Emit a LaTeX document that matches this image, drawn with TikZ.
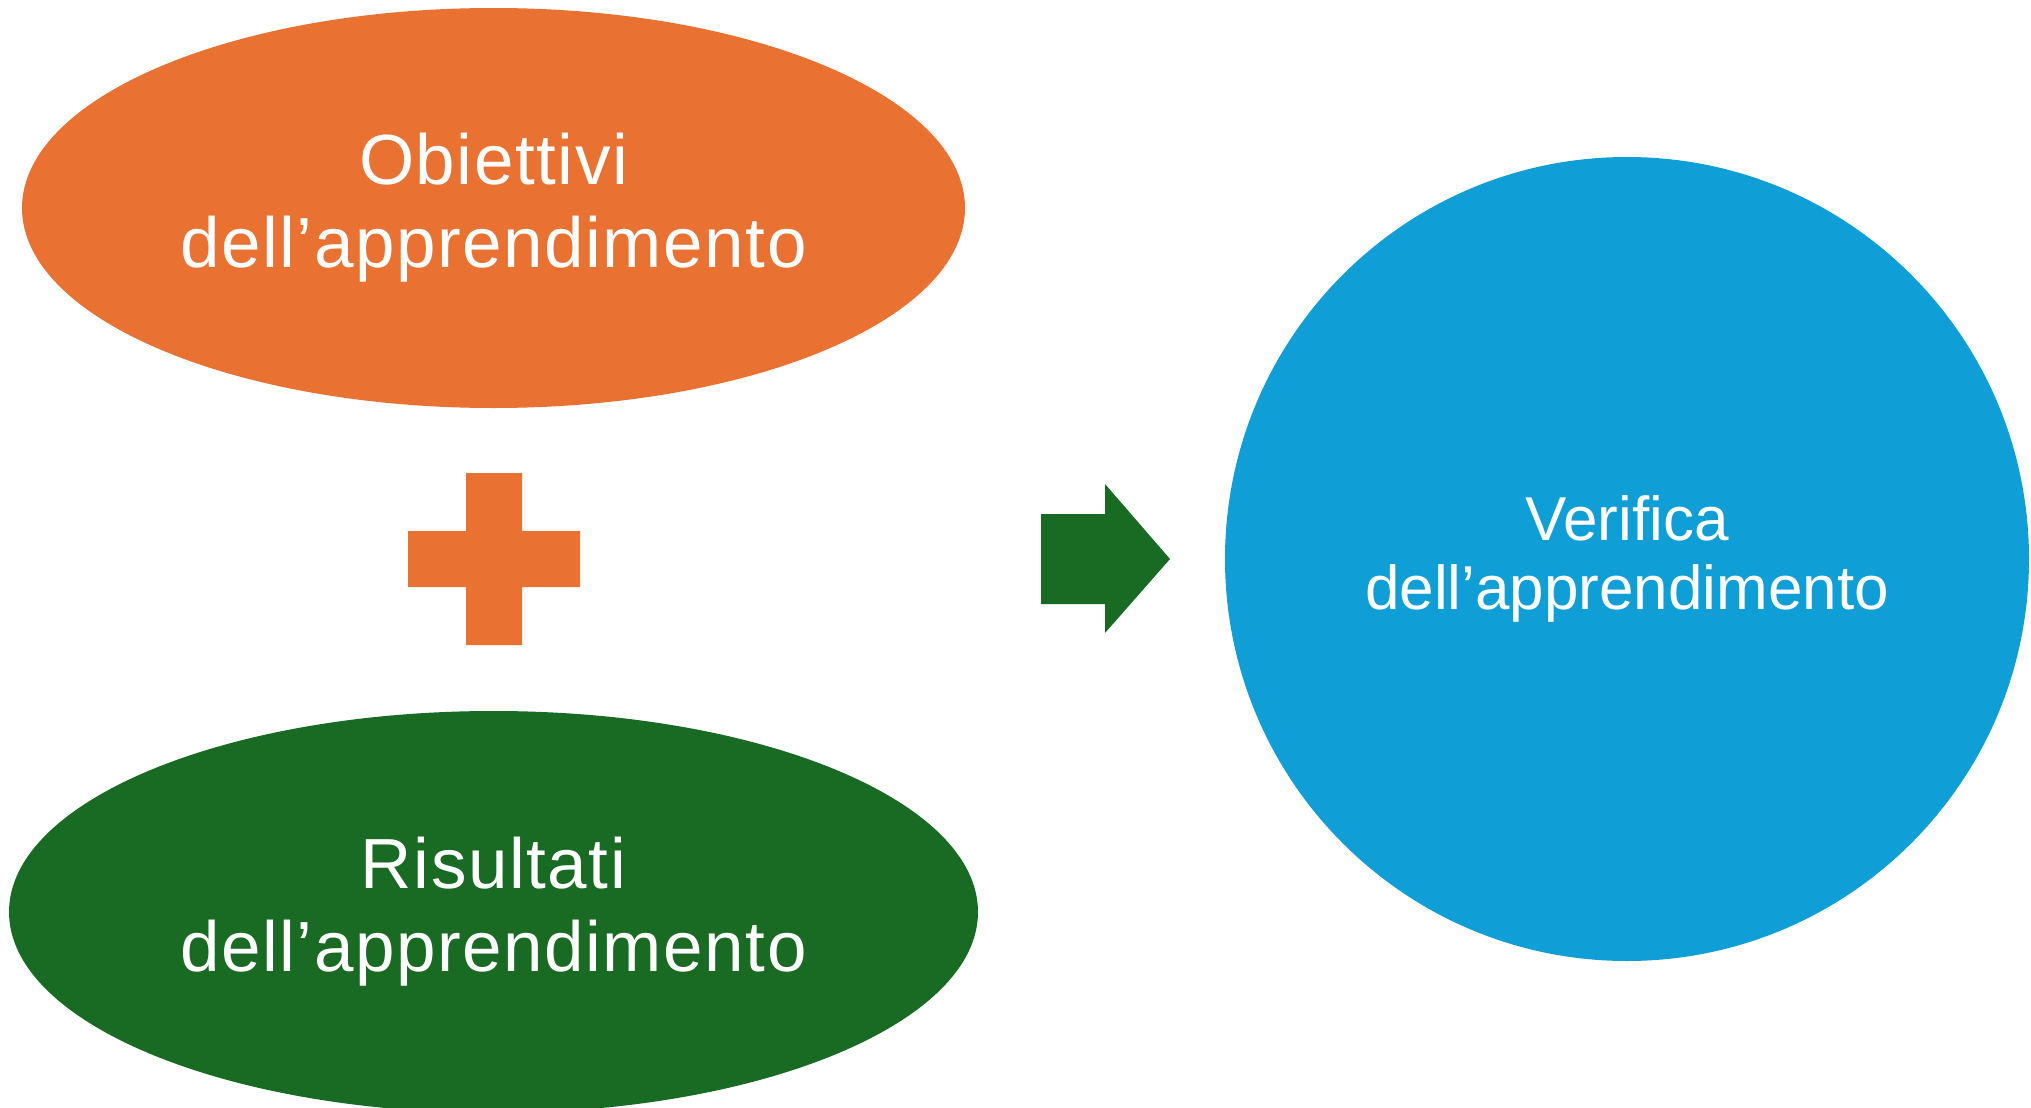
\documentclass[tikz,border=0pt]{standalone}
\usepackage{fontspec}
\setmainfont{Liberation Sans}
\usetikzlibrary{shapes.geometric}
\definecolor{orng}{HTML}{E97132}
\definecolor{grn}{HTML}{196B24}
\definecolor{blu}{HTML}{0F9ED5}
\begin{document}
\begin{tikzpicture}[x=0.5pt,y=-0.5pt,
  blob/.style={inner sep=0pt, text=white, align=center},
  bigtext/.style={font=\fontsize{35.5}{41.5}\selectfont\addfontfeatures{LetterSpace=2.2}},
  smalltext/.style={font=\fontsize{31}{34.5}\selectfont}]
\useasboundingbox (0,0) rectangle (2031,1108);
\node[blob, ellipse, fill=orng, minimum width=471.5pt, minimum height=200pt, bigtext] (obj) at (493.5,208) {Obiettivi\\dell’apprendimento};
\node[blob, ellipse, fill=grn, minimum width=484.5pt, minimum height=201pt, bigtext] (ris) at (493.5,912) {Risultati\\dell’apprendimento};
\node[blob, circle, fill=blu, minimum size=402pt, smalltext] (ver) at (1627,559) {Verifica\\dell’apprendimento};
\fill[orng] (466,473) rectangle (522,645) (408,531) rectangle (580,587);
\fill[grn] (1041,514) -- (1105,514) -- (1105,484) -- (1170,559) -- (1105,633) -- (1105,604) -- (1041,604) -- cycle;
\end{tikzpicture}
\end{document}
